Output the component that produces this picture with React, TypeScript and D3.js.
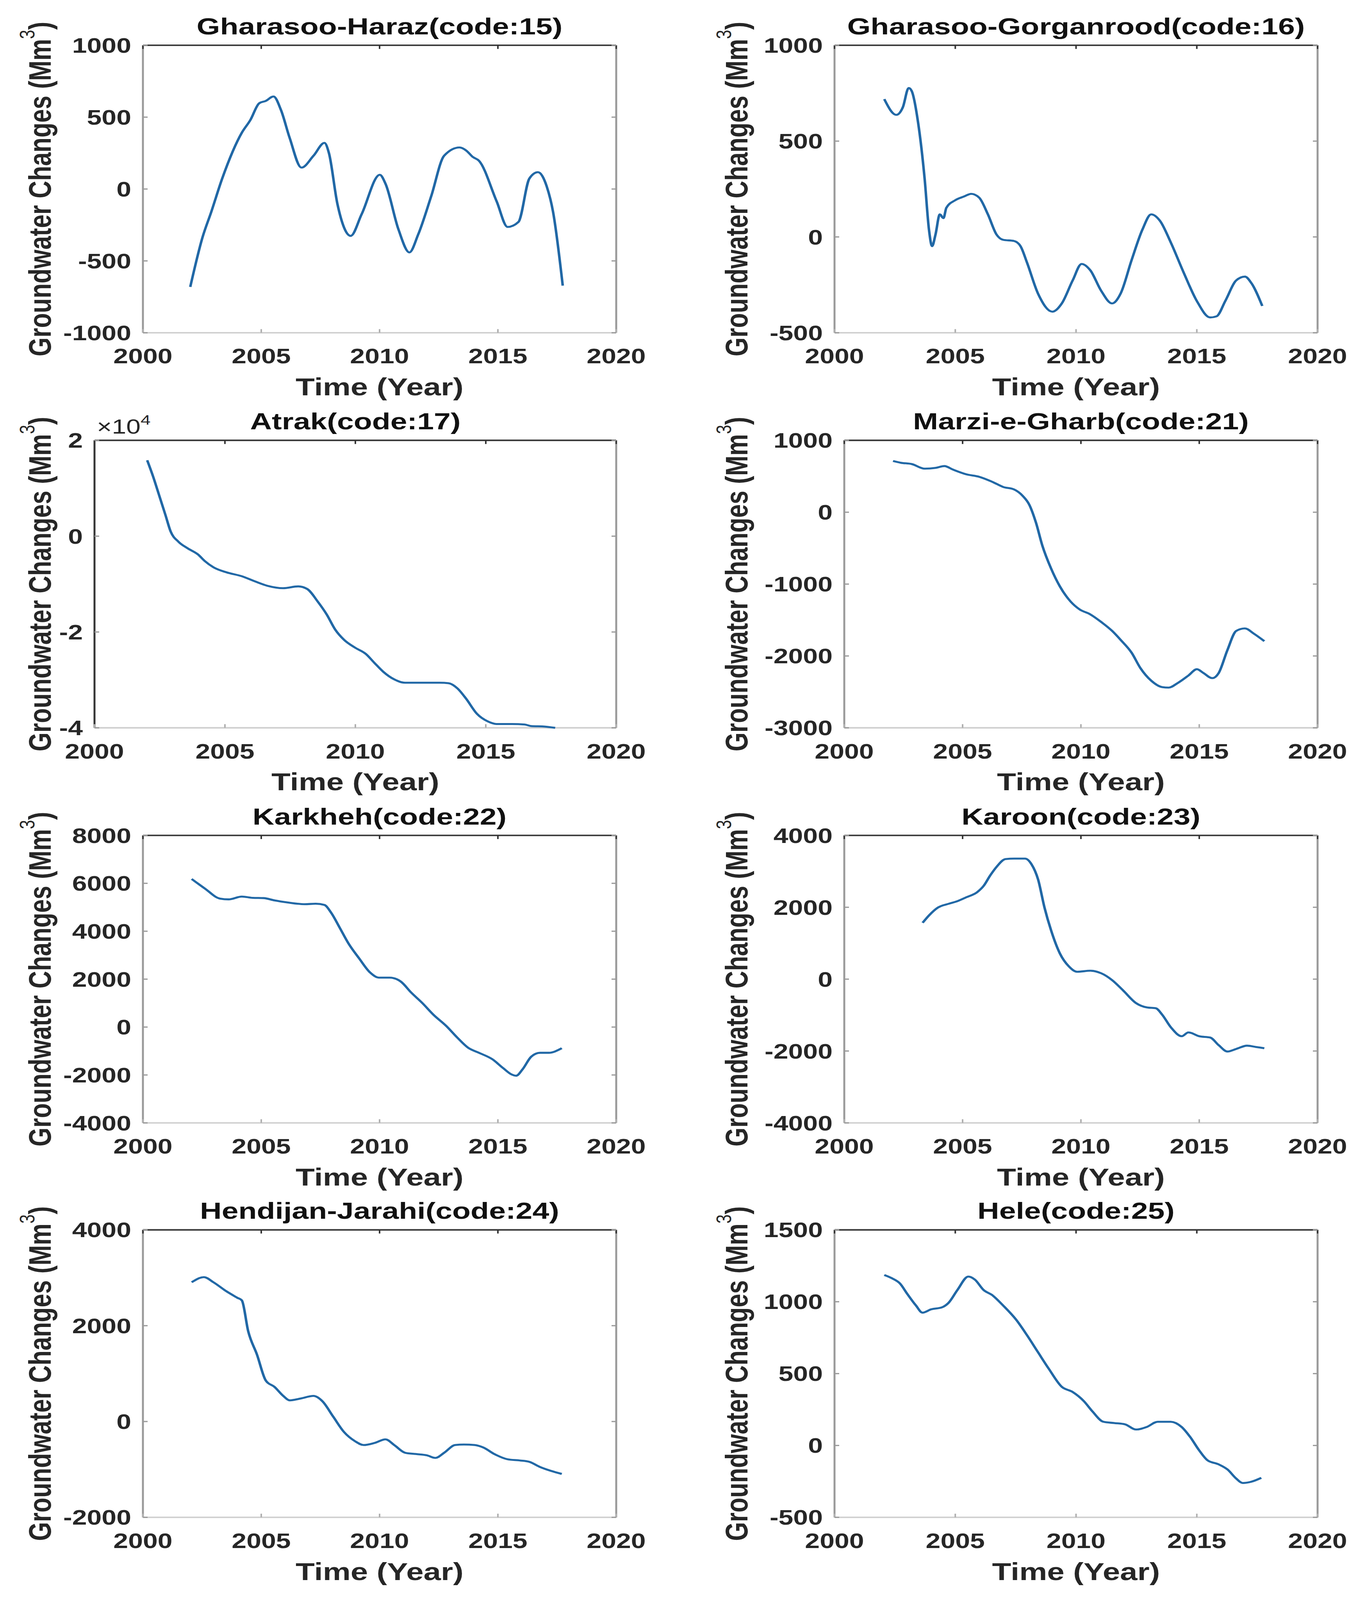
import * as d3 from 'd3'

const W = 3498
const H = 5265

const xTicks = [2000, 2005, 2010, 2015, 2020]

// [year, groundwater change (Mm3)]
const haraz: [number, number][] = [
  [2002.0, -681], [2002.52, -335], [2002.89, -158], [2003.35, 73], [2004.18, 392],
  [2004.54, 480], [2004.91, 596], [2005.19, 613], [2005.52, 644], [2005.83, 551],
  [2006.2, 356], [2006.7, 149], [2007.21, 232], [2007.67, 321], [2007.86, 250],
  [2008.22, -105], [2008.78, -326], [2009.24, -176], [2010.01, 99], [2010.25, 37],
  [2010.8, -282], [2011.26, -441], [2011.63, -317], [2012.18, -51], [2012.73, 232],
  [2013.38, 289], [2013.66, 268], [2013.94, 223], [2014.2, 197], [2014.95, -87],
  [2015.41, -264], [2015.87, -229], [2016.33, 73], [2016.69, 117], [2017.06, 20],
  [2017.33, -158], [2017.74, -672],
]

const gorganrood: [number, number][] = [
  [2002.06, 719], [2002.56, 637], [2002.83, 677], [2003.07, 777], [2003.19, 763],
  [2003.46, 597], [2003.73, 305], [2003.91, 39], [2004.04, -48], [2004.18, 12],
  [2004.36, 118], [2004.51, 98], [2004.63, 152], [2004.99, 191], [2005.36, 211],
  [2005.66, 225], [2005.99, 205], [2006.35, 118], [2006.71, 12], [2006.98, -15],
  [2007.43, -21], [2007.7, -48], [2007.97, -134], [2008.42, -294], [2009.02, -390],
  [2009.41, -347], [2009.86, -227], [2010.23, -141], [2010.59, -174], [2011.04, -281],
  [2011.49, -347], [2011.85, -294], [2012.3, -121], [2012.75, 39], [2013.11, 118],
  [2013.47, 85], [2013.92, -28], [2014.46, -187], [2015.0, -334], [2015.55, -420],
  [2015.82, -414], [2016.18, -334], [2016.63, -227], [2016.99, -207], [2017.26, -241],
  [2017.71, -360],
]

const atrak: [number, number][] = [
  [2002.02, 15850], [2002.25, 12390], [2002.47, 8670], [2002.72, 4410], [2002.92, 960],
  [2003.22, -1170], [2003.56, -2500], [2003.97, -3830], [2004.22, -5160], [2004.56, -6490],
  [2005.06, -7550], [2005.64, -8350], [2006.14, -9410], [2006.64, -10370], [2007.23, -10850],
  [2007.81, -10480], [2008.15, -11010], [2008.56, -13670], [2008.9, -16330], [2009.23, -19520],
  [2009.57, -21650], [2009.98, -23240], [2010.4, -24570], [2010.73, -26440], [2011.07, -28300],
  [2011.49, -29890], [2011.9, -30590], [2012.57, -30590], [2013.24, -30590], [2013.57, -30690],
  [2013.91, -31760], [2014.24, -33880], [2014.66, -37070], [2015.08, -38670], [2015.41, -39200],
  [2016.0, -39200], [2016.49, -39310], [2016.74, -39630], [2017.25, -39730], [2017.66, -40000],
]

const marzi: [number, number][] = [
  [2002.06, 713], [2002.39, 688], [2002.85, 670], [2003.4, 606], [2003.86, 617],
  [2004.23, 642], [2004.6, 592], [2005.15, 528], [2005.7, 493], [2006.26, 422],
  [2006.72, 351], [2007.18, 316], [2007.54, 227], [2007.82, 103], [2008.1, -145],
  [2008.37, -465], [2008.74, -784], [2009.11, -1032], [2009.57, -1245], [2009.94, -1351],
  [2010.4, -1422], [2010.86, -1528], [2011.32, -1652], [2011.68, -1777], [2012.14, -1954],
  [2012.51, -2167], [2012.97, -2344], [2013.43, -2433], [2013.71, -2440], [2014.08, -2379],
  [2014.54, -2273], [2014.9, -2184], [2015.18, -2238], [2015.55, -2309], [2015.82, -2238],
  [2016.19, -1918], [2016.56, -1652], [2016.93, -1617], [2017.3, -1688], [2017.75, -1794],
]

const karkheh: [number, number][] = [
  [2002.06, 6181], [2002.61, 5787], [2003.26, 5362], [2003.62, 5330], [2004.18, 5447],
  [2004.64, 5394], [2005.1, 5383], [2005.56, 5287], [2006.11, 5202], [2006.84, 5128],
  [2007.3, 5149], [2007.67, 5096], [2007.95, 4777], [2008.32, 4138], [2008.68, 3500],
  [2009.14, 2862], [2009.6, 2277], [2009.97, 2064], [2010.43, 2064], [2010.89, 1904],
  [2011.35, 1426], [2011.81, 1000], [2012.27, 521], [2012.82, 43], [2013.28, -436],
  [2013.74, -862], [2014.2, -1074], [2014.76, -1340], [2015.22, -1713], [2015.58, -1979],
  [2015.77, -2032], [2016.04, -1766], [2016.41, -1234], [2016.78, -1074], [2017.15, -1074],
  [2017.7, -883],
]

const karoon: [number, number][] = [
  [2003.31, 1567], [2003.59, 1780], [2003.96, 1993], [2004.42, 2099], [2004.78, 2170],
  [2005.15, 2277], [2005.61, 2418], [2005.89, 2596], [2006.16, 2879], [2006.44, 3128],
  [2006.81, 3340], [2007.18, 3355], [2007.64, 3355], [2007.91, 3199], [2008.19, 2773],
  [2008.46, 1993], [2008.74, 1355], [2009.11, 716], [2009.48, 362], [2009.84, 206],
  [2010.4, 234], [2010.86, 163], [2011.32, -28], [2011.78, -312], [2012.33, -667],
  [2012.79, -787], [2013.16, -809], [2013.43, -986], [2013.8, -1340], [2014.26, -1589],
  [2014.54, -1482], [2015.0, -1589], [2015.46, -1624], [2015.82, -1837], [2016.19, -2014],
  [2016.56, -1943], [2017.02, -1851], [2017.39, -1887], [2017.75, -1922],
]

const hendijan: [number, number][] = [
  [2002.06, 2906], [2002.58, 3013], [2002.98, 2906], [2003.53, 2717], [2003.99, 2582],
  [2004.18, 2528], [2004.45, 1881], [2004.82, 1396], [2005.19, 857], [2005.56, 722],
  [2005.93, 534], [2006.2, 442], [2006.66, 480], [2007.21, 534], [2007.58, 426],
  [2008.04, 102], [2008.5, -221], [2008.96, -410], [2009.33, -491], [2009.79, -447],
  [2010.25, -372], [2010.62, -491], [2011.08, -652], [2011.54, -679], [2012.0, -706],
  [2012.36, -760], [2012.73, -652], [2013.19, -491], [2013.56, -480], [2014.02, -491],
  [2014.39, -544], [2014.85, -679], [2015.4, -787], [2015.95, -814], [2016.32, -841],
  [2016.78, -949], [2017.24, -1030], [2017.7, -1094],
]

const hele: [number, number][] = [
  [2002.06, 1186], [2002.38, 1163], [2002.71, 1127], [2003.01, 1055], [2003.37, 974],
  [2003.64, 924], [2004.0, 947], [2004.45, 961], [2004.72, 992], [2005.09, 1082],
  [2005.54, 1175], [2005.81, 1154], [2006.17, 1082], [2006.53, 1046], [2006.98, 974],
  [2007.52, 875], [2007.97, 767], [2008.42, 650], [2008.87, 534], [2009.41, 408],
  [2009.86, 372], [2010.32, 309], [2010.68, 237], [2011.13, 165], [2011.58, 156],
  [2012.03, 147], [2012.48, 111], [2012.93, 129], [2013.38, 165], [2013.92, 165],
  [2014.37, 129], [2014.73, 58], [2015.09, -32], [2015.45, -104], [2015.9, -131],
  [2016.27, -167], [2016.63, -230], [2016.9, -261], [2017.26, -252], [2017.67, -225],
]

interface Panel {
  title: string
  data: [number, number][]
  yTicks: number[]
  scale?: number
  col: number
  row: number
  left: number
}

const panels: Panel[] = [
  { title: 'Gharasoo-Haraz(code:15)', data: haraz, yTicks: [-1000, -500, 0, 500, 1000], col: 0, row: 0, left: 366 },
  { title: 'Gharasoo-Gorganrood(code:16)', data: gorganrood, yTicks: [-500, 0, 500, 1000], col: 1, row: 0, left: 2137 },
  { title: 'Atrak(code:17)', data: atrak, yTicks: [-40000, -20000, 0, 20000], scale: 4, col: 0, row: 1, left: 242 },
  { title: 'Marzi-e-Gharb(code:21)', data: marzi, yTicks: [-3000, -2000, -1000, 0, 1000], col: 1, row: 1, left: 2162 },
  { title: 'Karkheh(code:22)', data: karkheh, yTicks: [-4000, -2000, 0, 2000, 4000, 6000, 8000], col: 0, row: 2, left: 366 },
  { title: 'Karoon(code:23)', data: karoon, yTicks: [-4000, -2000, 0, 2000, 4000], col: 1, row: 2, left: 2162 },
  { title: 'Hendijan-Jarahi(code:24)', data: hendijan, yTicks: [-2000, 0, 2000, 4000], col: 0, row: 3, left: 366 },
  { title: 'Hele(code:25)', data: hele, yTicks: [-500, 0, 500, 1000, 1500], col: 1, row: 3, left: 2137 },
]

const colRight = [1578, 3374]
const rowTop = [149, 1449, 2749, 4047]
const boxH = 946
const ylabelX = [130, 1914]

const font = '"Liberation Sans", Arial, Helvetica, sans-serif'
const ink = '#262626'
const lineColor = '#2168a6'
const tickLen = 12

function Axes({ p }: { p: Panel }) {
  const top = rowTop[p.row]
  const bottom = top + boxH
  const left = p.left
  const right = colRight[p.col]
  const x = d3.scaleLinear().domain([2000, 2020]).range([left, right])
  const y = d3
    .scaleLinear()
    .domain(d3.extent(p.yTicks) as [number, number])
    .range([bottom, top])
  const line = d3
    .line<[number, number]>()
    .x(d => x(d[0]))
    .y(d => y(d[1]))
    .curve(d3.curveMonotoneX)
  const cx = (left + right) / 2
  const cy = (top + bottom) / 2
  const fmt = (v: number) => String(p.scale ? v / 10 ** p.scale : v)

  return (
    <g fontFamily={font} fill={ink}>
      {/* box edges */}
      <line x1={left} x2={right} y1={top} y2={top} stroke="#363636" strokeWidth={5} />
      <line x1={left} x2={right} y1={bottom} y2={bottom} stroke="#cfcfcf" strokeWidth={5} />
      <line x1={left} x2={left} y1={top} y2={bottom} stroke={p.scale ? '#363636' : '#9a9a9a'} strokeWidth={5} />
      <line x1={right} x2={right} y1={top} y2={bottom} stroke="#9a9a9a" strokeWidth={5} />

      {xTicks.map(t => (
        <g key={'x' + t}>
          <line x1={x(t)} x2={x(t)} y1={top} y2={top + tickLen} stroke="#363636" strokeWidth={4} />
          <line x1={x(t)} x2={x(t)} y1={bottom} y2={bottom - tickLen} stroke="#b0b0b0" strokeWidth={4} />
          <text x={x(t)} y={bottom + 101} textAnchor="middle" fontSize={68} fontWeight="bold">
            {t}
          </text>
        </g>
      ))}
      {p.yTicks.map(t => (
        <g key={'y' + t}>
          <line x1={left} x2={left + tickLen} y1={y(t)} y2={y(t)} stroke="#9a9a9a" strokeWidth={4} />
          <line x1={right} x2={right - tickLen} y1={y(t)} y2={y(t)} stroke="#9a9a9a" strokeWidth={4} />
          <text x={left - 30} y={y(t)} dy="0.36em" textAnchor="end" fontSize={68} fontWeight="bold">
            {fmt(t)}
          </text>
        </g>
      ))}

      {p.scale ? (
        <text x={left + 6} y={top - 22} fontSize={66}>
          {'\u00d710'}
          <tspan dy={-30} fontSize={46}>
            {p.scale}
          </tspan>
        </text>
      ) : null}

      <path d={line(p.data) ?? ''} fill="none" stroke={lineColor} strokeWidth={6.5} strokeLinejoin="round" />

      <text x={cx} y={top - 36} textAnchor="middle" fontSize={77} fontWeight="bold" fill="#111">
        {p.title}
      </text>
      <text x={cx} y={bottom + 206} textAnchor="middle" fontSize={80} fontWeight="bold">
        Time (Year)
      </text>
      <text
        transform={`translate(${ylabelX[p.col]},${cy}) rotate(-90)`}
        textAnchor="middle"
        fontSize={80}
        fontWeight="bold"
      >
        Groundwater Changes  (Mm
        <tspan dy={-42} fontSize={54} fontWeight="normal">
          3
        </tspan>
        <tspan dy={42}>)</tspan>
      </text>
    </g>
  )
}

// the browser viewport is shorter than the figure, so the figure is fitted to it
export default function App() {
  return (
    <svg
      viewBox={`0 0 ${W} ${H}`}
      preserveAspectRatio="none"
      style={{ position: 'fixed', left: 0, top: 0, width: '100vw', height: '100vh', background: '#fff' }}
    >
      <rect width={W} height={H} fill="#fff" />
      {panels.map(p => (
        <Axes key={p.title} p={p} />
      ))}
    </svg>
  )
}
